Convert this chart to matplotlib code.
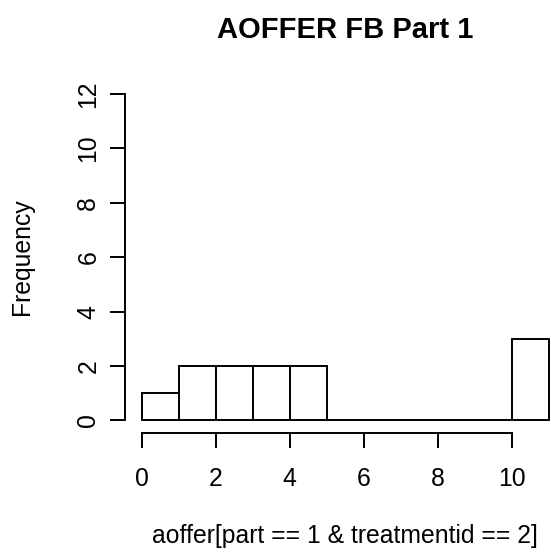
import numpy as np
import matplotlib
matplotlib.use("Agg")
import matplotlib.pyplot as plt

plt.rcParams['font.family'] = ['Liberation Sans', 'DejaVu Sans']

# histogram of aoffer, unit-width bins from 0 to 11
bin_edges = [0, 1, 2, 3, 4, 5, 6, 7, 8, 9, 10, 11]
counts = [1, 2, 2, 2, 2, 0, 0, 0, 0, 0, 3]
x_ticks = [0, 2, 4, 6, 8, 10]
y_ticks = [0, 2, 4, 6, 8, 10, 12]

W, H = 551, 558
fig = plt.figure(figsize=(W / 100, H / 100), dpi=100)

# plot region placed in pixels, R style (4% padding around data range)
left_px, right_px = 125, 565
top_px, bottom_px = 81, 433
ax = fig.add_axes([left_px / W, (H - bottom_px) / H,
                   (right_px - left_px) / W, (bottom_px - top_px) / H])

lefts = np.array(bin_edges[:-1])
widths = np.diff(bin_edges)
ax.bar(lefts, counts, width=widths, align='edge', facecolor='white',
       edgecolor='black', linewidth=1.4, clip_on=False)

ax.set_xlim(-0.45, 11.44)
ax.set_ylim(-0.46, 12.48)

for s in ['top', 'right']:
    ax.spines[s].set_visible(False)
ax.spines['left'].set_bounds(0, 12)
ax.spines['bottom'].set_bounds(0, 10)
for s in ['left', 'bottom']:
    ax.spines[s].set_linewidth(1.4)

ax.set_xticks(x_ticks)
ax.set_yticks(y_ticks)
ax.set_yticklabels([str(v) for v in y_ticks], rotation=90, va='center')
ax.tick_params(axis='both', direction='out', length=10.8, width=1.4,
               labelsize=17.8)
ax.tick_params(axis='x', pad=14)
ax.tick_params(axis='y', pad=7)

fig.text(345 / W, 1 - 30 / H, "AOFFER FB Part 1", ha='center', va='center',
         fontsize=21, fontweight='bold')
fig.text(345 / W, 1 - 536 / H, "aoffer[part == 1 & treatmentid == 2]",
         ha='center', va='center', fontsize=17.8)
fig.text(22 / W, 1 - 257 / H, "Frequency", ha='center', va='center',
         rotation=90, fontsize=17.8)

fig.savefig("out.png", dpi=100)
